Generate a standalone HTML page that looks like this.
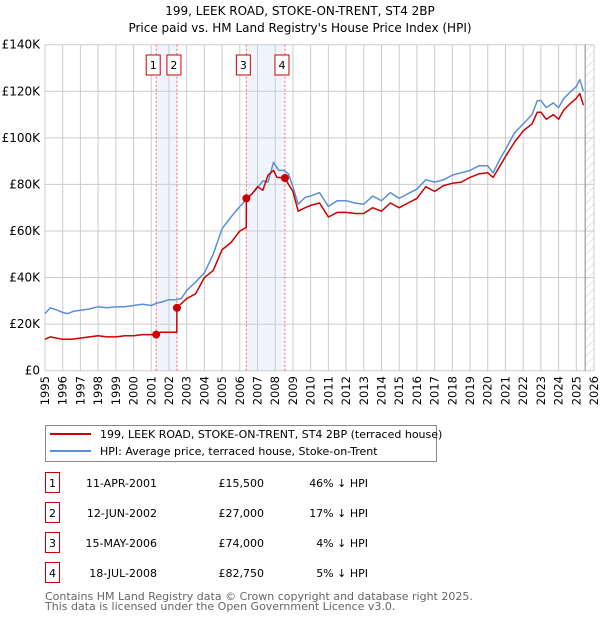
<!DOCTYPE html>
<html><head><meta charset="utf-8"><style>
body{margin:0;background:#fff;width:600px;height:620px;overflow:hidden;font-family:"DejaVu Sans","Liberation Sans",sans-serif}
svg text{font-family:"DejaVu Sans","Liberation Sans",sans-serif}
</style></head><body>
<svg id="c" width="600" height="620"></svg>
<script>
const hpiYears=[1995,1995.3,1995.7,1996,1996.3,1996.6,1997,1997.5,1998,1998.5,1999,1999.5,2000,2000.5,2001,2001.3,2001.6,2002,2002.4,2002.7,2003,2003.5,2004,2004.5,2005,2005.5,2006,2006.5,2007,2007.3,2007.6,2007.9,2008.2,2008.5,2008.75,2009,2009.3,2009.7,2010,2010.5,2011,2011.5,2012,2012.5,2013,2013.5,2014,2014.5,2015,2015.5,2016,2016.5,2017,2017.5,2018,2018.5,2019,2019.5,2020,2020.3,2020.7,2021,2021.5,2022,2022.5,2022.8,2023,2023.3,2023.7,2024,2024.3,2024.7,2025,2025.2,2025.4];
const hpiValues=[24.5,27,26,25,24.5,25.5,26,26.5,27.5,27,27.5,27.5,28,28.5,28,29,29.5,30.5,30.5,31,34.5,38,42,50,61,66,70.5,74.5,78.5,81.5,81,89.5,86,86,84.5,79,71.5,74.5,75,76.5,70.5,73,73,72,71.5,75,73,76.5,74,76,78,82,81,82,84,85,86,88,88,85,91,95,102,106,110,116,116,113,115,113,117,120,122,125,120];
const ppYears=[1995,1995.3,1996,1996.5,1997,1997.5,1998,1998.5,1999,1999.5,2000,2000.5,2001,2001.28,2001.5,2002,2002.44,2002.45,2003,2003.5,2004,2004.5,2005,2005.5,2006,2006.36,2006.37,2006.7,2007,2007.3,2007.6,2007.9,2008.1,2008.55,2008.75,2009,2009.3,2009.7,2010,2010.5,2011,2011.5,2012,2012.5,2013,2013.5,2014,2014.5,2015,2015.5,2016,2016.5,2017,2017.5,2018,2018.5,2019,2019.5,2020,2020.3,2020.7,2021,2021.5,2022,2022.5,2022.8,2023,2023.3,2023.7,2024,2024.3,2024.7,2025,2025.2,2025.4];
const ppValues=[13.5,14.5,13.5,13.5,14,14.5,15,14.5,14.5,15,15,15.5,15.5,15.5,16.5,16.5,16.5,27,31,33,40,43,52,55,60,61.5,74,76,79,77.5,84,86,83,82.75,80,77,68.5,70,71,72,66,68,68,67.5,67.5,70,68.5,72,70,72,74,79,77,79.5,80.5,81,83,84.5,85,83,88,92,98,103,106,111,111,108,110,108,112,115,117,119,114];
const saleLabels=["1","2","3","4"];
const saleYears=[2001.28,2002.45,2006.37,2008.55];
const salePrices=[15.5,27,74,82.75];
const yTicks=[0,20,40,60,80,100,120,140];
const yTickLabels=["£0","£20K","£40K","£60K","£80K","£100K","£120K","£140K"];
const xTicks=[1995,1996,1997,1998,1999,2000,2001,2002,2003,2004,2005,2006,2007,2008,2009,2010,2011,2012,2013,2014,2015,2016,2017,2018,2019,2020,2021,2022,2023,2024,2025,2026];
const saleDates=["11-APR-2001","12-JUN-2002","15-MAY-2006","18-JUL-2008"];
const salePriceText=["£15,500","£27,000","£74,000","£82,750"];
const saleDiff=["46% ↓ HPI","17% ↓ HPI","4% ↓ HPI","5% ↓ HPI"];

const L=45,R=594,T=44.7,B=370.7;
const X=v=>L+(v-1995)*(R-L)/31;
const Y=v=>B-v*(B-T)/140;
const svg=document.getElementById('c');
const NS='http://www.w3.org/2000/svg';
function mk(t,a,p){const e=document.createElementNS(NS,t);for(const k in a)e.setAttribute(k,a[k]);(p||svg).appendChild(e);return e;}
function tx(s,a){const e=mk('text',a);e.textContent=s;return e;}

let t=tx('199, LEEK ROAD, STOKE-ON-TRENT, ST4 2BP',{x:300,y:15,'text-anchor':'middle','font-size':12,fill:'#000'});

t=tx("Price paid vs. HM Land Registry's House Price Index (HPI)",{x:300,y:32,'text-anchor':'middle','font-size':12,fill:'#000'});


for(const [a,b] of [[0,1],[2,3]]){
  const r=mk('rect',{x:X(saleYears[a]),y:T,width:X(saleYears[b])-X(saleYears[a]),height:B-T,fill:'#f0f4fc'});
  
}
const defs=mk('defs',{});
const pat=mk('pattern',{id:'h',width:6,height:6,patternUnits:'userSpaceOnUse',patternTransform:'rotate(45)'},defs);
mk('line',{x1:0,y1:0,x2:0,y2:6,stroke:'#ccc','stroke-width':1},pat);
let hr=mk('rect',{x:X(2025.5),y:T,width:R-X(2025.5),height:B-T,fill:'url(#h)'});

yTicks.forEach((v,i)=>{
  const g=mk('line',{x1:L,x2:R,y1:Y(v),y2:Y(v),stroke:'#ccc','stroke-width':1});
  
  const l=tx(yTickLabels[i],{x:40,y:Y(v)+4,'text-anchor':'end','font-size':12,fill:'#000'});
  
});
xTicks.forEach(v=>{
  const g=mk('line',{x1:X(v),x2:X(v),y1:T,y2:B,stroke:'#ccc','stroke-width':1});
  
  const l=tx(String(v),{x:0,y:0,'text-anchor':'end','font-size':11.5,fill:'#000',transform:`translate(${X(v)+4},${376}) rotate(-90)`});
  
});
let vl=mk('line',{x1:X(2025.5),x2:X(2025.5),y1:T,y2:B,stroke:'#888','stroke-width':1});

saleYears.forEach((v,i)=>{
  const d=mk('line',{x1:X(v),x2:X(v),y1:T,y2:B,stroke:'#f66','stroke-width':1,'stroke-dasharray':'2,2'});
  
  const bx0=X(v)-10;
  const bx=mk('rect',{x:bx0,y:55,width:14,height:20,fill:'#fff',stroke:'#c00','stroke-width':1});
  
  const lt=tx(saleLabels[i],{x:bx0+7,y:69,'text-anchor':'middle','font-size':11,fill:'#000'});
  
});
function path(xs,vs,color,name){
  const d=xs.map((x,i)=>(i?'L':'M')+X(x).toFixed(1)+','+Y(vs[i]).toFixed(1)).join('');
  const p=mk('path',{d,fill:'none',stroke:color,'stroke-width':1.5,'stroke-linejoin':'round'});
  
}
path(hpiYears,hpiValues,'#5b8fd6','hpi-line');
path(ppYears,ppValues,'#cc0000','price-paid-line');
saleYears.forEach((v,i)=>{
  const c=mk('circle',{cx:X(v),cy:Y(salePrices[i]),r:4,fill:'#cc0000'});
  
});
const lg=mk('rect',{x:45.5,y:425.5,width:391,height:36,fill:'#fff',stroke:'#888','stroke-width':1});

let ll=mk('line',{x1:50,x2:91,y1:434,y2:434,stroke:'#cc0000','stroke-width':2});

t=tx('199, LEEK ROAD, STOKE-ON-TRENT, ST4 2BP (terraced house)',{x:100,y:438,'font-size':11,fill:'#000'});

ll=mk('line',{x1:50,x2:91,y1:451,y2:451,stroke:'#5b8fd6','stroke-width':2});

t=tx('HPI: Average price, terraced house, Stoke-on-Trent',{x:100,y:455,'font-size':11,fill:'#000'});

saleLabels.forEach((s,i)=>{
  const y=483+30*i;
  const b=mk('rect',{x:45.5,y:y-10.5,width:14,height:20,fill:'#fff',stroke:'#c00','stroke-width':1});
  
  let e=tx(s,{x:52.5,y:y+4,'text-anchor':'middle','font-size':11,fill:'#000'});
  
  e=tx(saleDates[i],{x:157,y:y+4,'text-anchor':'end','font-size':11,fill:'#000'});
  
  e=tx(salePriceText[i],{x:264,y:y+4,'text-anchor':'end','font-size':11,fill:'#000'});
  
  e=tx(saleDiff[i],{x:368,y:y+4,'text-anchor':'end','font-size':11,fill:'#000'});
  
});
t=tx('Contains HM Land Registry data © Crown copyright and database right 2025.',{x:45,y:600,'font-size':11,fill:'#666'});

t=tx('This data is licensed under the Open Government Licence v3.0.',{x:45,y:610,'font-size':11,fill:'#666'});

</script>
</body></html>
